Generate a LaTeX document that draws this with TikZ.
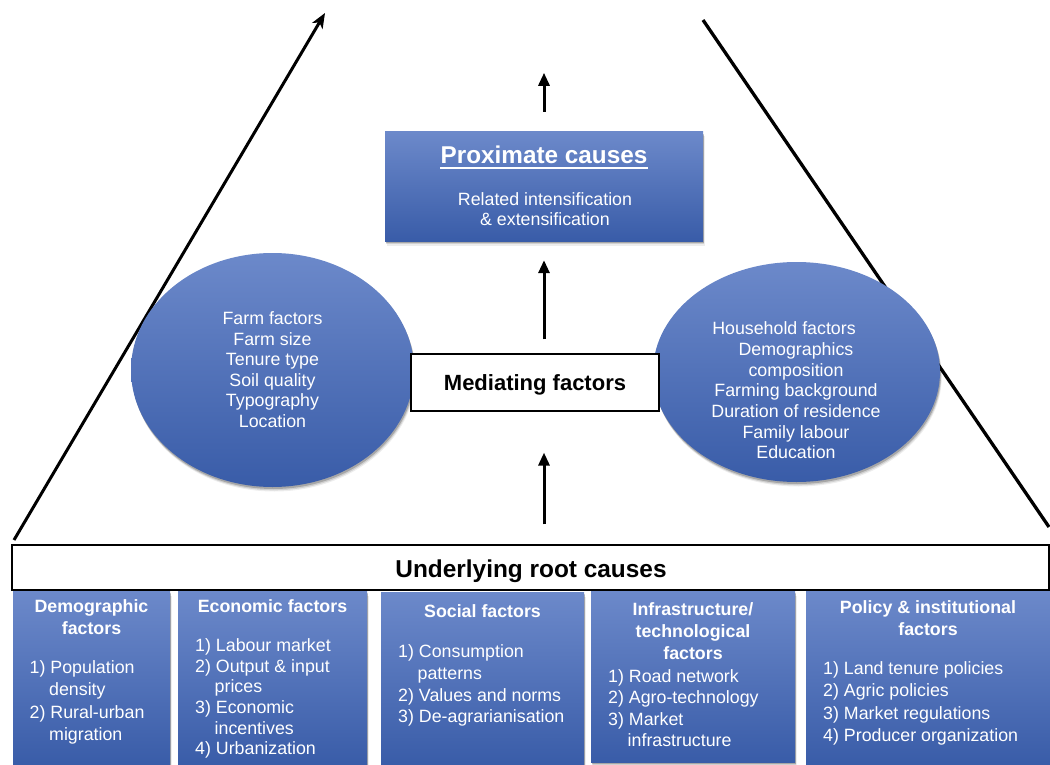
\documentclass[tikz,border=0pt]{standalone}
\usepackage{fontspec}
\setmainfont{Liberation Sans}
\usetikzlibrary{arrows.meta,shadows,shapes.geometric,calc}
\definecolor{btop}{RGB}{108,137,202}
\definecolor{bbot}{RGB}{57,92,168}
\newcommand\myind{\hspace*{19.5pt}}
\begin{document}
\begin{tikzpicture}[x=1pt,y=-1pt,
  shadowed/.style={
    drop shadow={shadow xshift=1.8pt,shadow yshift=-4.5pt,opacity=0.07,fill=black},
    drop shadow={shadow xshift=1.3pt,shadow yshift=-3.3pt,opacity=0.12,fill=black},
    drop shadow={shadow xshift=0.8pt,shadow yshift=-2pt,opacity=0.2,fill=black}},
  bluebox/.style={rectangle,draw=none,top color=btop,bottom color=bbot,inner sep=0,shadowed},
  blueell/.style={ellipse,draw=none,top color=btop,bottom color=bbot,inner sep=0,shadowed},
  whitebox/.style={rectangle,draw=black,line width=1.2pt,fill=white,inner sep=0},
  wtext/.style={text=white,inner sep=0,font=\fontsize{17.8}{20.6}\selectfont},
  etext/.style={wtext,align=center,anchor=north},
  hdtext/.style={text=white,inner sep=0,align=center,anchor=north,font=\fontsize{17.8}{22}\selectfont\bfseries},
  itemtext/.style={text=white,inner sep=0,align=left,anchor=north west},
  uparrow/.style={line width=3pt,-{Triangle[length=13pt,width=11pt]}},
  diag/.style={line width=3pt},
]
\useasboundingbox (0,0) rectangle (1050,765);

% diagonal lines
\coordinate (la) at (14,540);
\coordinate (lb) at (325,13);
\coordinate (ra) at (703,20);
\coordinate (rb) at (1049,527);
\draw[diag,-{Stealth[length=15pt,width=12pt,inset=4pt]}] (la) -- (lb);
\draw[diag,line width=3.3pt] (ra) -- (rb);

% proximate causes
\node[bluebox,minimum width=318pt,minimum height=109pt] (prox) at (544,186.5) {};
\node[text=white,inner sep=0,anchor=base,font=\fontsize{24.3}{28}\selectfont\bfseries] (proxt) at (544,163.7) {Proximate causes};
\draw[white,line width=2.2pt] ([yshift=-4.5pt]proxt.base west) -- ([yshift=-4.5pt]proxt.base east);
\node[etext,font=\fontsize{17.8}{20}\selectfont] (proxs) at (545,192.5) {Related intensification\\\& extensification};

% ellipses
\node[blueell,minimum width=283pt,minimum height=234pt] (lell) at (272.5,370) {};
\node[etext] (lellt) at (272.5,311.5) {Farm factors\\Farm size\\Tenure type\\Soil quality\\Typography\\Location};
\node[blueell,minimum width=287pt,minimum height=220pt] (rell) at (796.5,372) {};
\node[etext,font=\fontsize{17.8}{20.7}\selectfont] (rellt) at (796,321.5) {Household factors\hspace*{24pt}\\Demographics\\composition\\Farming background\\Duration of residence\\Family labour\\Education};

% mediating
\node[whitebox,minimum width=248pt,minimum height=57pt] (med) at (535,382.5) {};
\node[inner sep=0,anchor=base,font=\fontsize{22}{26}\selectfont\bfseries] (medt) at (535,390) {Mediating factors};

% underlying
\node[whitebox,minimum width=1037pt,minimum height=45pt] (under) at (530.5,567.5) {};
\node[inner sep=0,anchor=base,font=\fontsize{24.4}{28}\selectfont\bfseries] (undert) at (531,577.7) {Underlying root causes};

% arrows
\draw[uparrow] ([yshift=20pt]prox.north) -- ([yshift=59pt]prox.north);
\draw[uparrow] ($(prox.south |- med.north)+(0,-14)$) -- ($(prox.south)+(0,19)$);
\draw[uparrow] ($(prox.south |- under.north)+(0,-20)$) -- ($(prox.south |- med.south)+(0,41)$);

% bottom boxes
\node[bluebox,minimum width=157pt,minimum height=175pt] (b1) at (91.5,678.5) {};
\node[bluebox,minimum width=189pt,minimum height=175pt] (b2) at (272.5,678.5) {};
\node[bluebox,minimum width=203pt,minimum height=174pt] (b3) at (482.5,679) {};
\node[bluebox,minimum width=204pt,minimum height=171pt] (b4) at (693,676.5) {};
\node[bluebox,minimum width=244pt,minimum height=175pt] (b5) at (928,678.5) {};

\node[hdtext] (b1h) at (91.5,599.5) {Demographic\\factors};
\node[itemtext,font=\fontsize{17.8}{22.3}\selectfont] (b1i) at (29.5,660.5) {1) Population\\\myind density\\2) Rural-urban\\\myind migration};

\node[hdtext] (b2h) at (272.5,599.5) {Economic factors};
\node[itemtext,font=\fontsize{17.8}{20.6}\selectfont] (b2i) at (195,638.5) {1) Labour market\\2) Output \& input\\\myind prices\\3) Economic\\\myind incentives\\4) Urbanization};

\node[hdtext] (b3h) at (482.5,604.5) {Social factors};
\node[itemtext,font=\fontsize{17.8}{21.7}\selectfont] (b3i) at (398,644.5) {1) Consumption\\\myind patterns\\2) Values and norms\\3) De-agrarianisation};

\node[hdtext] (b4h) at (693,602.5) {Infrastructure/\\technological\\factors};
\node[itemtext,font=\fontsize{17.8}{21.3}\selectfont] (b4i) at (608,669.5) {1) Road network\\2) Agro-technology\\3) Market\\\myind infrastructure};

\node[hdtext] (b5h) at (928,600.5) {Policy \& institutional\\factors};
\node[itemtext,font=\fontsize{17.8}{22.3}\selectfont] (b5i) at (823,661.5) {1) Land tenure policies\\2) Agric policies\\3) Market regulations\\4) Producer organization};
\end{tikzpicture}
\end{document}
